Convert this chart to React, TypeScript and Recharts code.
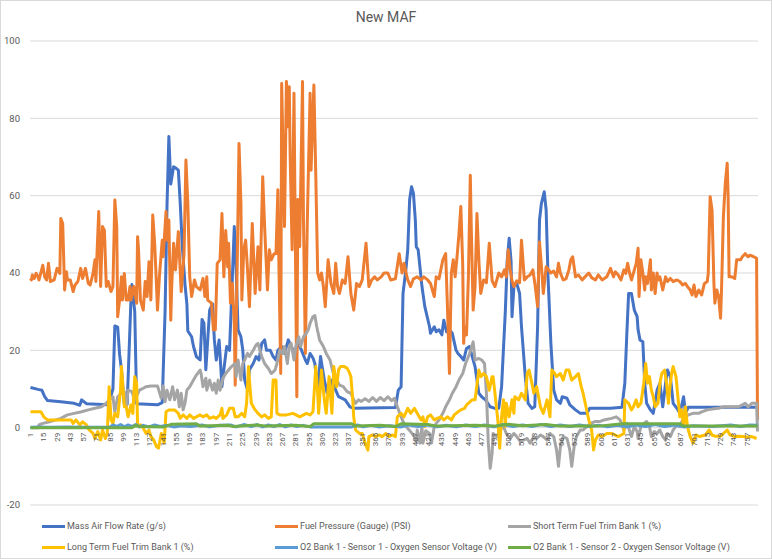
import React from "react";
import { LineChart, Line, XAxis, YAxis, CartesianGrid } from "recharts";

const WIDTH = 772;
const HEIGHT = 559;
const PLOT_TOP = 41;
const PLOT_BOTTOM = 505;
const Y_MIN = -20;
const Y_MAX = 100;
const ZERO_Y = PLOT_TOP + (Y_MAX / (Y_MAX - Y_MIN)) * (PLOT_BOTTOM - PLOT_TOP);
const TEXT = "#595959";

const xTicks = [
  1, 15, 29, 43, 57, 71, 85, 99, 113, 127, 141, 155, 169, 183, 197, 211, 225, 239, 253, 267,
  281, 295, 309, 323, 337, 351, 365, 379, 393, 407, 421, 435, 449, 463, 477, 491, 505, 519,
  533, 547, 561, 575, 589, 603, 617, 631, 645, 659, 673, 687, 701, 715, 729, 743, 757,
];
const yTicks = [-20, 0, 20, 40, 60, 80, 100];

// [sample #, value] pairs
const massAirFlow: [number, number][] = [
  [1, 10.4], [9, 9.9], [13, 9.7], [16, 8], [19, 7], [33, 6.7], [47, 6.3], [53, 5.8], [55, 7.2], [60, 6.2],
  [83, 5.9], [88, 10], [90, 26.3], [93, 26], [95, 19], [97, 15], [100, 6], [103, 6], [107, 33], [108, 37],
  [111, 30], [113, 6.2], [135, 5.9], [140, 6.5], [143, 30], [145, 57], [147, 75.3], [149, 63], [152, 67.5],
  [155, 67], [157, 66.6], [159, 58], [161, 47.7], [164, 37], [166, 32], [167, 25], [171, 23.5], [173, 21],
  [176, 18.4], [180, 17.5], [182, 28], [184, 27], [186, 15], [188, 22.7], [190, 30.4], [193, 32], [195, 22.7],
  [197, 17.5], [200, 22.7], [203, 10.6], [205, 15], [208, 21], [211, 20], [214, 39], [216, 52], [218, 40.8],
  [220, 25.3], [223, 23.5], [225, 20], [227, 12.3], [230, 9.7], [232, 15], [236, 16.6], [239, 18.4],
  [242, 17.5], [245, 21.8], [248, 22.7], [250, 20], [254, 20], [257, 18.4], [260, 17.5], [262, 20], [266, 21],
  [269, 19.2], [273, 22.7], [276, 21], [280, 19.2], [283, 21.8], [287, 20], [291, 17.5], [293, 16.6],
  [296, 19.2], [299, 18], [301, 16.6], [304, 9.7], [307, 18.4], [311, 12.3], [314, 8.9], [319, 12.3],
  [323, 9.7], [326, 8], [333, 7.2], [338, 5.4], [342, 5], [386, 5.2], [389, 9.7], [392, 10.6], [394, 34.7],
  [397, 40.8], [399, 46], [401, 59], [403, 62.3], [405, 60.6], [407, 53.7], [408, 46.8], [410, 46],
  [414, 36.5], [417, 31.3], [422, 26.1], [423, 24.4], [427, 26.1], [429, 24.8], [432, 25.3], [435, 24],
  [437, 27.8], [440, 24.8], [443, 25.3], [446, 24.4], [450, 20], [452, 19.2], [455, 18.4], [458, 17.5],
  [461, 20.5], [464, 21], [467, 18.4], [470, 15.8], [474, 8.9], [477, 8], [481, 7.2], [486, 5.4], [491, 5],
  [495, 5], [498, 10.6], [502, 30.4], [504, 43.4], [506, 49], [508, 43], [509, 28.7], [511, 36.5],
  [514, 37.3], [517, 34.7], [519, 26.1], [523, 13.2], [526, 6.3], [530, 5], [533, 5.4], [536, 26.1],
  [538, 53.7], [540, 58], [543, 61], [545, 56.3], [547, 39], [550, 21.8], [553, 9.7], [556, 7.2], [560, 6.3],
  [562, 8], [567, 7.6], [570, 5.9], [576, 4.6], [581, 3.7], [588, 3.7], [591, 5], [613, 5], [625, 5.3],
  [628, 11.5], [630, 23.5], [632, 34.7], [635, 34.7], [638, 30.4], [641, 28.7], [642, 25.3], [644, 22.7],
  [647, 22.2], [649, 11.5], [651, 6.3], [655, 4.6], [658, 3.7], [662, 9.7], [665, 11.5], [668, 5.4],
  [671, 11.5], [673, 14.9], [676, 13.2], [679, 6.3], [683, 5], [686, 3.7], [690, 8], [692, 3.7], [695, 5.3],
  [768, 5.3],
];

const fuelPressure: [number, number][] = [
  [1, 38.6], [2, 38.2], [3, 39.5], [5, 38.6], [7, 39.9], [9, 39], [10, 38.2], [14, 42], [16, 39], [18, 38.2],
  [20, 42.5], [22, 37.8], [26, 38.2], [29, 41.2], [32, 39.9], [33, 54.1], [35, 52.8], [37, 35.6], [39, 40.3],
  [40, 38.2], [43, 38.2], [46, 35.2], [48, 36.9], [51, 37.8], [54, 41.2], [56, 38.6], [59, 41.2], [62, 37.3],
  [64, 36.9], [67, 39.9], [69, 43.4], [70, 37.8], [73, 55.9], [75, 36.5], [77, 52], [79, 51], [81, 36.5],
  [83, 37.8], [86, 35.2], [88, 36.5], [90, 58.9], [92, 52], [93, 28.7], [95, 33], [97, 39], [98, 33],
  [100, 39.9], [102, 33], [104, 33], [106, 36.5], [107, 33], [110, 36.5], [113, 32.2], [114, 49.4], [115, 46],
  [117, 33], [120, 30.4], [122, 37.8], [124, 33.9], [126, 42.9], [128, 33], [130, 55], [132, 47.7],
  [134, 36.5], [135, 30.4], [137, 39], [140, 48.5], [141, 44.2], [144, 55.9], [145, 48.5], [147, 53.7],
  [149, 27.8], [150, 36.5], [152, 47.7], [154, 40.8], [157, 50.7], [160, 35.2], [163, 45], [165, 69.2],
  [167, 58], [169, 39], [171, 33.9], [174, 38.2], [176, 36.5], [180, 35.6], [183, 38.6], [185, 33.9],
  [187, 39], [188, 33], [192, 32.2], [194, 25.3], [196, 25.3], [198, 42.5], [201, 43.4], [203, 55.4],
  [205, 39], [207, 51], [209, 41.6], [210, 47.7], [212, 32.2], [214, 37.3], [216, 27], [217, 11], [219, 40.8],
  [221, 73.5], [223, 58], [224, 33], [226, 46], [228, 48.5], [230, 40.8], [232, 31.3], [235, 52.8],
  [238, 34.7], [241, 46.8], [243, 35.6], [246, 64.9], [248, 52], [251, 35.6], [253, 46], [255, 43.4],
  [258, 45], [260, 45], [262, 61.5], [263, 43.4], [265, 14], [266, 89], [269, 52], [271, 89.5], [273, 77.8],
  [274, 88.2], [275, 70], [277, 46], [279, 86.5], [280, 59], [282, 8], [283, 59], [285, 46.8], [288, 89.5],
  [289, 53.7], [291, 19.2], [293, 52.8], [296, 86.5], [297, 66.6], [300, 88.6], [302, 65], [304, 40],
  [306, 38.2], [308, 40], [310, 36.5], [312, 31.3], [315, 43.4], [318, 37.3], [321, 34.7], [323, 42.5],
  [325, 36.5], [327, 34.7], [330, 38.2], [333, 37.3], [336, 44.2], [339, 34.7], [342, 30.4], [345, 37.3],
  [348, 36.5], [351, 38.2], [355, 47.7], [358, 36.5], [361, 38.2], [364, 39], [367, 38.2], [371, 39],
  [374, 40], [378, 40], [381, 38.2], [386, 38.5], [390, 45], [393, 40], [395, 42.5], [399, 38.2], [402, 36.5],
  [405, 38.5], [409, 39], [413, 38.2], [416, 39], [420, 38.2], [423, 37.3], [427, 33.9], [429, 39],
  [432, 38.5], [436, 43.4], [439, 45], [441, 30.4], [443, 14], [445, 40], [447, 43.4], [449, 39], [451, 44.2],
  [453, 50], [455, 57.2], [457, 42], [458, 21.8], [459, 26.1], [461, 24], [463, 39], [465, 65.3], [466, 52],
  [468, 30.4], [470, 36.5], [472, 55.4], [474, 43.4], [476, 34.7], [479, 38.2], [482, 37.5], [485, 47.7],
  [488, 38], [491, 36.5], [495, 40], [498, 39], [501, 40.8], [503, 39], [505, 46], [507, 41], [509, 38],
  [511, 36.5], [514, 38], [517, 37.5], [519, 48.5], [522, 38.2], [525, 39], [528, 39.5], [531, 40.8],
  [533, 37.5], [536, 31.3], [538, 48], [540, 42], [542, 34.7], [545, 41.6], [547, 41], [550, 40], [553, 40.5],
  [556, 39], [558, 42.5], [560, 40], [563, 38.2], [566, 38.5], [569, 40.8], [571, 43.4], [573, 44.2],
  [576, 39], [579, 39.5], [583, 38.2], [586, 39], [590, 40], [593, 38.8], [597, 38.2], [600, 39.5],
  [604, 38.2], [609, 39], [613, 41.2], [616, 39], [618, 40.3], [621, 39.5], [624, 38.2], [627, 40.8],
  [629, 39.9], [631, 42.5], [633, 40], [635, 38.2], [637, 39.9], [640, 42.5], [642, 46.4], [643, 33.9],
  [645, 43.4], [647, 40], [649, 35.6], [650, 39], [652, 37.3], [655, 43.4], [656, 35.6], [658, 40],
  [660, 34.7], [662, 40], [663, 38.2], [665, 39], [668, 35.6], [671, 39], [673, 37.8], [676, 38.6],
  [679, 37.8], [683, 38.2], [686, 37.8], [689, 36.9], [692, 37.3], [694, 36.5], [697, 35.6], [699, 34.3],
  [701, 36.9], [703, 33.9], [706, 35.6], [709, 34.3], [712, 37.3], [715, 37.8], [716, 39.9], [718, 59.7],
  [720, 56.3], [722, 37.3], [723, 32.2], [725, 35.6], [727, 33.9], [729, 28.3], [730, 35.6], [732, 54.6],
  [734, 63.2], [736, 68.4], [737, 59.7], [738, 39], [741, 39], [744, 38.6], [746, 43.4], [750, 43.4],
  [752, 44.2], [755, 45], [758, 44.2], [760, 44.6], [764, 44.2], [767, 43.8], [768, 2],
];

const shortTermTrim: [number, number][] = [
  [1, 0], [9, 0], [10, 0.7], [14, 1.1], [21, 1.5], [28, 2], [33, 2.4], [40, 3.3], [47, 3.7], [55, 4.1],
  [62, 4.6], [69, 5], [76, 5.4], [81, 6.3], [84, 7.2], [88, 8], [90, 4.1], [93, 8], [97, 8.9], [100, 9.3],
  [102, 5.4], [104, 9.7], [108, 9.3], [111, 7.2], [116, 9.7], [120, 10.2], [123, 10.6], [128, 10.8],
  [135, 10.8], [139, 7.6], [141, 10.8], [143, 6.7], [145, 9.7], [148, 7.2], [151, 10.6], [153, 7.2],
  [156, 9.7], [158, 5.4], [160, 8.9], [162, 4.6], [164, 6.3], [166, 9.7], [169, 10.6], [173, 12.3],
  [176, 13.6], [180, 14.9], [181, 14], [183, 10.6], [186, 12.8], [187, 9.7], [190, 12.3], [193, 9.7],
  [195, 11.5], [197, 8.9], [199, 12.3], [201, 9.7], [204, 12.8], [207, 14], [210, 14.9], [213, 15.8],
  [217, 16.6], [218, 13.2], [220, 17.5], [223, 12.3], [225, 16.6], [227, 17.5], [230, 19.2], [232, 18.4],
  [236, 20], [239, 21.4], [241, 21.8], [245, 18.4], [248, 16.6], [252, 15.3], [255, 14], [259, 14.9],
  [261, 16.6], [264, 20], [267, 19.2], [269, 21], [272, 16.6], [274, 21], [276, 21.8], [279, 17.5], [281, 21],
  [284, 23.5], [286, 21], [289, 23.5], [292, 24.4], [294, 25.3], [296, 27], [299, 28.7], [301, 29],
  [303, 26.1], [306, 22.7], [310, 21], [313, 19.2], [317, 17.5], [320, 14.5], [324, 12.3], [327, 11],
  [331, 10.6], [335, 9.3], [339, 8.9], [342, 7.2], [344, 6.3], [347, 7.2], [350, 6.8], [354, 7.5],
  [358, 6.8], [362, 7.8], [366, 6.8], [370, 7.8], [374, 7], [378, 8], [382, 7], [385, 7.6], [388, 5.4],
  [392, 2.8], [395, 1.1], [399, -0.2], [402, -1], [406, -2.3], [408, -3.6], [409, -0.6], [412, -4],
  [414, 0.3], [415, -4], [418, -0.8], [422, -1.5], [424, -4], [427, 0.3], [429, 1.1], [432, 2], [436, 3.7],
  [439, 5.4], [443, 7.2], [446, 8.9], [450, 10.6], [453, 12.3], [457, 14], [460, 16.6], [464, 19],
  [468, 22.2], [470, 17.5], [474, 17.9], [477, 17.5], [480, 16.6], [482, 8.9], [484, -4], [486, -10.5],
  [488, -6.6], [489, -1.5], [493, -2.3], [496, -0.6], [500, 0.3], [503, -1.5], [507, -2.8], [511, -1.5],
  [514, -2.3], [518, -3.6], [521, -3.2], [525, -2.8], [528, -4], [532, -2.3], [535, -2.8], [539, -1.9],
  [542, -2.3], [546, -3.2], [549, -1.5], [553, -2.3], [556, -5.8], [558, -10], [560, -5], [563, -2.3],
  [567, -2.8], [570, -5.8], [572, -10], [575, -4], [577, -2.3], [581, -0.6], [584, -0.6], [588, 0.3],
  [592, 1.1], [597, 1.6], [602, 1.6], [606, 2], [614, 2.4], [619, 2.8], [623, 2], [627, -0.6], [630, 1.1],
  [632, 0], [635, -2.3], [638, 0.3], [641, -1], [642, -2.8], [645, 0.3], [648, 1.1], [651, 1.6], [654, 0.3],
  [656, -2.3], [659, -1], [662, -1.5], [665, -0.6], [668, -2.3], [671, -3.2], [673, -1.5], [676, -2.3],
  [679, -0.6], [683, 0.7], [686, 0.3], [689, 2], [692, 2.8], [695, 3.3], [700, 3.7], [706, 3.7], [709, 4.1],
  [715, 4.6], [720, 4.8], [727, 5], [732, 5.4], [743, 5.4], [748, 5.4], [752, 5.9], [755, 6.3], [758, 5.4],
  [762, 6.3], [767, 6.3], [768, -1],
];

const longTermTrim: [number, number][] = [
  [1, 4.1], [12, 4.1], [15, 2.8], [19, 2], [44, 2], [46, 1.1], [49, 2], [53, 0.7], [56, 1.5], [60, 0.7],
  [63, -0.6], [67, -1.5], [69, -2.8], [72, -1], [75, -3.2], [77, -0.6], [80, -2.8], [82, -1.5], [84, 10.6],
  [86, 2], [88, 1.1], [90, 3.7], [93, 2.8], [96, 9.7], [97, 15.8], [100, 5.4], [102, 5.4], [104, 2.8],
  [107, 5.9], [109, 3.7], [111, 13.2], [113, 11.5], [114, 0.7], [118, 0.7], [121, -0.6], [123, -1.5],
  [126, -0.6], [128, -2.3], [131, -3.2], [134, -4.9], [136, -5.3], [139, -1.5], [142, -4], [144, 4.1],
  [147, 4.6], [153, 4.6], [157, 3.7], [159, 2.4], [162, 3.3], [166, 2.4], [169, 3.3], [173, 2.4], [176, 2.8],
  [180, 3.3], [183, 2.8], [187, 3.3], [190, 2.4], [194, 2.8], [197, 2.4], [201, 3.3], [203, 5], [204, 2.4],
  [208, 3.3], [211, 5], [215, 5], [217, 2.8], [220, 2.8], [224, 3.7], [227, 2.8], [229, 6.3], [231, 15.8],
  [232, 12.3], [234, 6.3], [238, 4.6], [241, 3.7], [245, 2.8], [248, 3.3], [252, 2.4], [255, 2.8],
  [257, 12.3], [260, 12.3], [261, 3.7], [264, 3.3], [271, 3.3], [278, 3.7], [285, 2.8], [292, 3.7],
  [296, 3.3], [299, 4.1], [302, 15.8], [304, 8.9], [305, 3.7], [308, 14.9], [311, 7.2], [313, 3.7],
  [316, 13.2], [319, 3.7], [321, 15.8], [324, 10.6], [326, 14.9], [328, 15.8], [332, 15.8], [335, 15.4],
  [337, 14.5], [339, 13.2], [341, 7.2], [342, 2.8], [344, -0.6], [348, -1.5], [351, -1.5], [354, -4],
  [357, -5.8], [358, -2.3], [362, -1.9], [365, -2.3], [369, -1.9], [372, -2.3], [376, -1.5], [379, -2.3],
  [383, -1.9], [386, -2.3], [388, 2.8], [392, 3.7], [395, 2.8], [399, 5], [402, 3.7], [406, 5], [409, 3.7],
  [413, 2], [415, 2.8], [417, 0.3], [420, 2.8], [423, 3.3], [427, 2], [430, 2.4], [434, 2.8], [437, 2],
  [441, 2.8], [445, 2], [448, 3.3], [452, 4.1], [455, 4.6], [459, 5], [461, 5.9], [467, 7.2], [470, 7.2],
  [474, 14.9], [476, 13.2], [479, 14], [482, 13.2], [485, 9.7], [488, 13.2], [489, 13.2], [491, 8.9],
  [494, 2], [496, -5.3], [498, 2.8], [500, 7.2], [502, 0.3], [503, 6.3], [506, 2.8], [509, 7.2], [511, 3.7],
  [512, 8], [516, 7.2], [519, 8.9], [523, 7.2], [525, 14], [527, 14.9], [530, 11.5], [532, 8.9], [535, 10.6],
  [539, 5.4], [542, 3.7], [546, 7.2], [549, 2.8], [551, 14.9], [554, 14], [556, 13.2], [560, 14],
  [563, 12.3], [566, 14.9], [569, 14.9], [572, 12.3], [576, 13.2], [579, 14], [582, 10.6], [584, 8.9],
  [587, 5.4], [590, 2], [593, -0.6], [595, -5.8], [597, -3.2], [600, -1.9], [604, -2.3], [609, -1.5],
  [614, -1.5], [621, -2.3], [627, -1.5], [628, 7.2], [632, 6.3], [635, 4.6], [637, 5.4], [640, 7.2],
  [642, 5.4], [645, 6.3], [648, 11.5], [650, 16.6], [652, 11.5], [654, 13.2], [656, 9.7], [658, 8],
  [660, 5.4], [663, 6.3], [665, 11.5], [667, 14], [670, 14.9], [672, 11.5], [674, 6.3], [676, 11.5],
  [678, 14.9], [679, 15.8], [682, 13.2], [684, 8], [686, 2.8], [688, 4.6], [690, 0.3], [692, 5.4],
  [694, 0.3], [697, -2.3], [700, -4], [703, -1.9], [707, -2.3], [713, -1.9], [717, -0.6], [720, -1.9],
  [723, -2.2], [729, -2.2], [732, -1.5], [736, -0.6], [739, -1.9], [744, -2.3], [748, -2.2], [753, -2.3],
  [757, -2.5], [762, -2.3], [767, -2.8],
];

const o2Sensor1: [number, number][] = [
  [1, 0.1], [10, 0.2], [20, 0.1], [40, 0.2], [60, 0.1], [85, 0.2], [88, 0.7], [92, 0.3], [96, 0.8],
  [100, 0.2], [104, 0.7], [108, 0.3], [112, 0.8], [116, 0.2], [120, 0.6], [126, 0.2], [132, 0.7], [138, 0.3],
  [145, 0.6], [152, 0.2], [160, 0.5], [170, 0.3], [182, 0.7], [190, 0.2], [200, 0.6], [212, 0.7], [218, 0.2],
  [226, 0.8], [234, 0.3], [240, 0.8], [246, 0.2], [252, 0.7], [258, 0.3], [264, 0.8], [270, 0.2], [276, 0.7],
  [282, 0.3], [288, 0.6], [296, 0.2], [340, 0.2], [346, 0.7], [352, 0.2], [360, 0.6], [368, 0.2], [380, 0.5],
  [392, 0.2], [400, 0.7], [410, 0.3], [420, 0.7], [430, 0.2], [440, 0.6], [450, 0.2], [460, 0.7], [470, 0.3],
  [480, 0.7], [490, 0.2], [500, 0.8], [510, 0.3], [520, 0.7], [530, 0.3], [540, 0.8], [550, 0.3], [560, 0.7],
  [570, 0.3], [580, 0.7], [590, 0.3], [600, 0.6], [610, 0.2], [620, 0.6], [630, 0.2], [640, 0.7], [650, 0.3],
  [660, 0.8], [670, 0.3], [680, 0.7], [690, 0.2], [700, 0.5], [720, 0.3], [740, 0.7], [750, 0.3], [760, 0.7],
  [768, 0.6],
];

const o2Sensor2: [number, number][] = [
  [1, 0], [108, 0], [112, 0.6], [116, 0.3], [142, 0.2], [150, 0.9], [176, 1], [180, 0.4], [210, 0.6],
  [215, 0.3], [240, 0.7], [250, 0.4], [280, 0.6], [296, 0.3], [300, 1], [340, 1], [344, 0.4], [370, 0.6],
  [386, 0.3], [392, 1], [420, 0.8], [430, 0.4], [470, 0.6], [490, 0.4], [505, 0.9], [520, 0.5], [545, 0.8],
  [560, 0.4], [600, 0.4], [626, 1], [686, 1], [690, 0.4], [768, 0.4],
];

const seriesNames = [
  "Mass Air Flow Rate (g/s)",
  "Fuel Pressure (Gauge) (PSI)",
  "Short Term Fuel Trim Bank 1 (%)",
  "Long Term Fuel Trim Bank 1 (%)",
  "O2 Bank 1 - Sensor 1 - Oxygen Sensor Voltage (V)",
  "O2 Bank 1 - Sensor 2 - Oxygen Sensor Voltage (V)",
];
const seriesColors = ["#4472C4", "#ED7D31", "#A5A5A5", "#FFC000", "#5B9BD5", "#70AD47"];
const seriesPoints = [massAirFlow, fuelPressure, shortTermTrim, longTermTrim, o2Sensor1, o2Sensor2];

const toRows = (pts: [number, number][]) => pts.map(([s, v]) => ({ s, v }));

const XTick = (props: any) => {
  const { x, payload } = props;
  return (
    <text
      transform={`translate(${x},${ZERO_Y + 5}) rotate(-90)`}
      textAnchor="end"
      dominantBaseline="central"
      fontSize={8}
      fill={TEXT}
    >
      {payload.value}
    </text>
  );
};

const legendCols = [42, 275, 508];
const legendRows = [526, 547];

const App = () => {
  return (
    <div
      style={{
        position: "absolute",
        left: 0,
        top: 0,
        width: WIDTH,
        height: HEIGHT,
        background: "#fff",
        fontFamily: "Roboto, sans-serif",
      }}
    >
      <div
        style={{
          position: "absolute",
          inset: 0,
          border: "1px solid #D9D9D9",
          boxSizing: "border-box",
          pointerEvents: "none",
        }}
      />
      <div
        style={{
          position: "absolute",
          top: 10,
          left: 0,
          width: WIDTH,
          textAlign: "center",
          fontSize: 14,
          lineHeight: "14px",
          color: TEXT,
        }}
      >
        New MAF
      </div>
      <LineChart
        width={WIDTH}
        height={HEIGHT}
        margin={{ top: PLOT_TOP, right: 14, bottom: HEIGHT - PLOT_BOTTOM - 1, left: 0 }}
      >
        <CartesianGrid vertical={false} stroke="#D9D9D9" />
        <XAxis
          type="number"
          dataKey="s"
          domain={[0.5, 768.5]}
          ticks={xTicks}
          interval={0}
          tick={<XTick />}
          axisLine={false}
          tickLine={false}
          height={1}
          allowDuplicatedCategory={false}
        />
        <YAxis
          type="number"
          domain={[Y_MIN, Y_MAX]}
          ticks={yTicks}
          interval={0}
          width={30}
          axisLine={false}
          tickLine={false}
          tickSize={0}
          tickMargin={10}
          tick={{ fontSize: 9.5, fill: TEXT }}
        />
        {seriesPoints.map((pts, i) => (
          <Line
            key={seriesNames[i]}
            name={seriesNames[i]}
            data={toRows(pts)}
            dataKey="v"
            type="linear"
            stroke={seriesColors[i]}
            strokeWidth={3}
            strokeLinejoin="round"
            dot={false}
            activeDot={false}
            isAnimationActive={false}
          />
        ))}
      </LineChart>
      {seriesNames.map((name, i) => (
        <div
          key={name}
          style={{
            position: "absolute",
            left: legendCols[i % 3],
            top: legendRows[Math.floor(i / 3)] - 7,
            height: 14,
            display: "flex",
            alignItems: "center",
            fontSize: 9,
            color: TEXT,
            whiteSpace: "nowrap",
          }}
        >
          <span
            style={{
              display: "inline-block",
              width: 23,
              height: 3,
              background: seriesColors[i],
              marginRight: 2,
            }}
          />
          {name}
        </div>
      ))}
    </div>
  );
};

export default App;
